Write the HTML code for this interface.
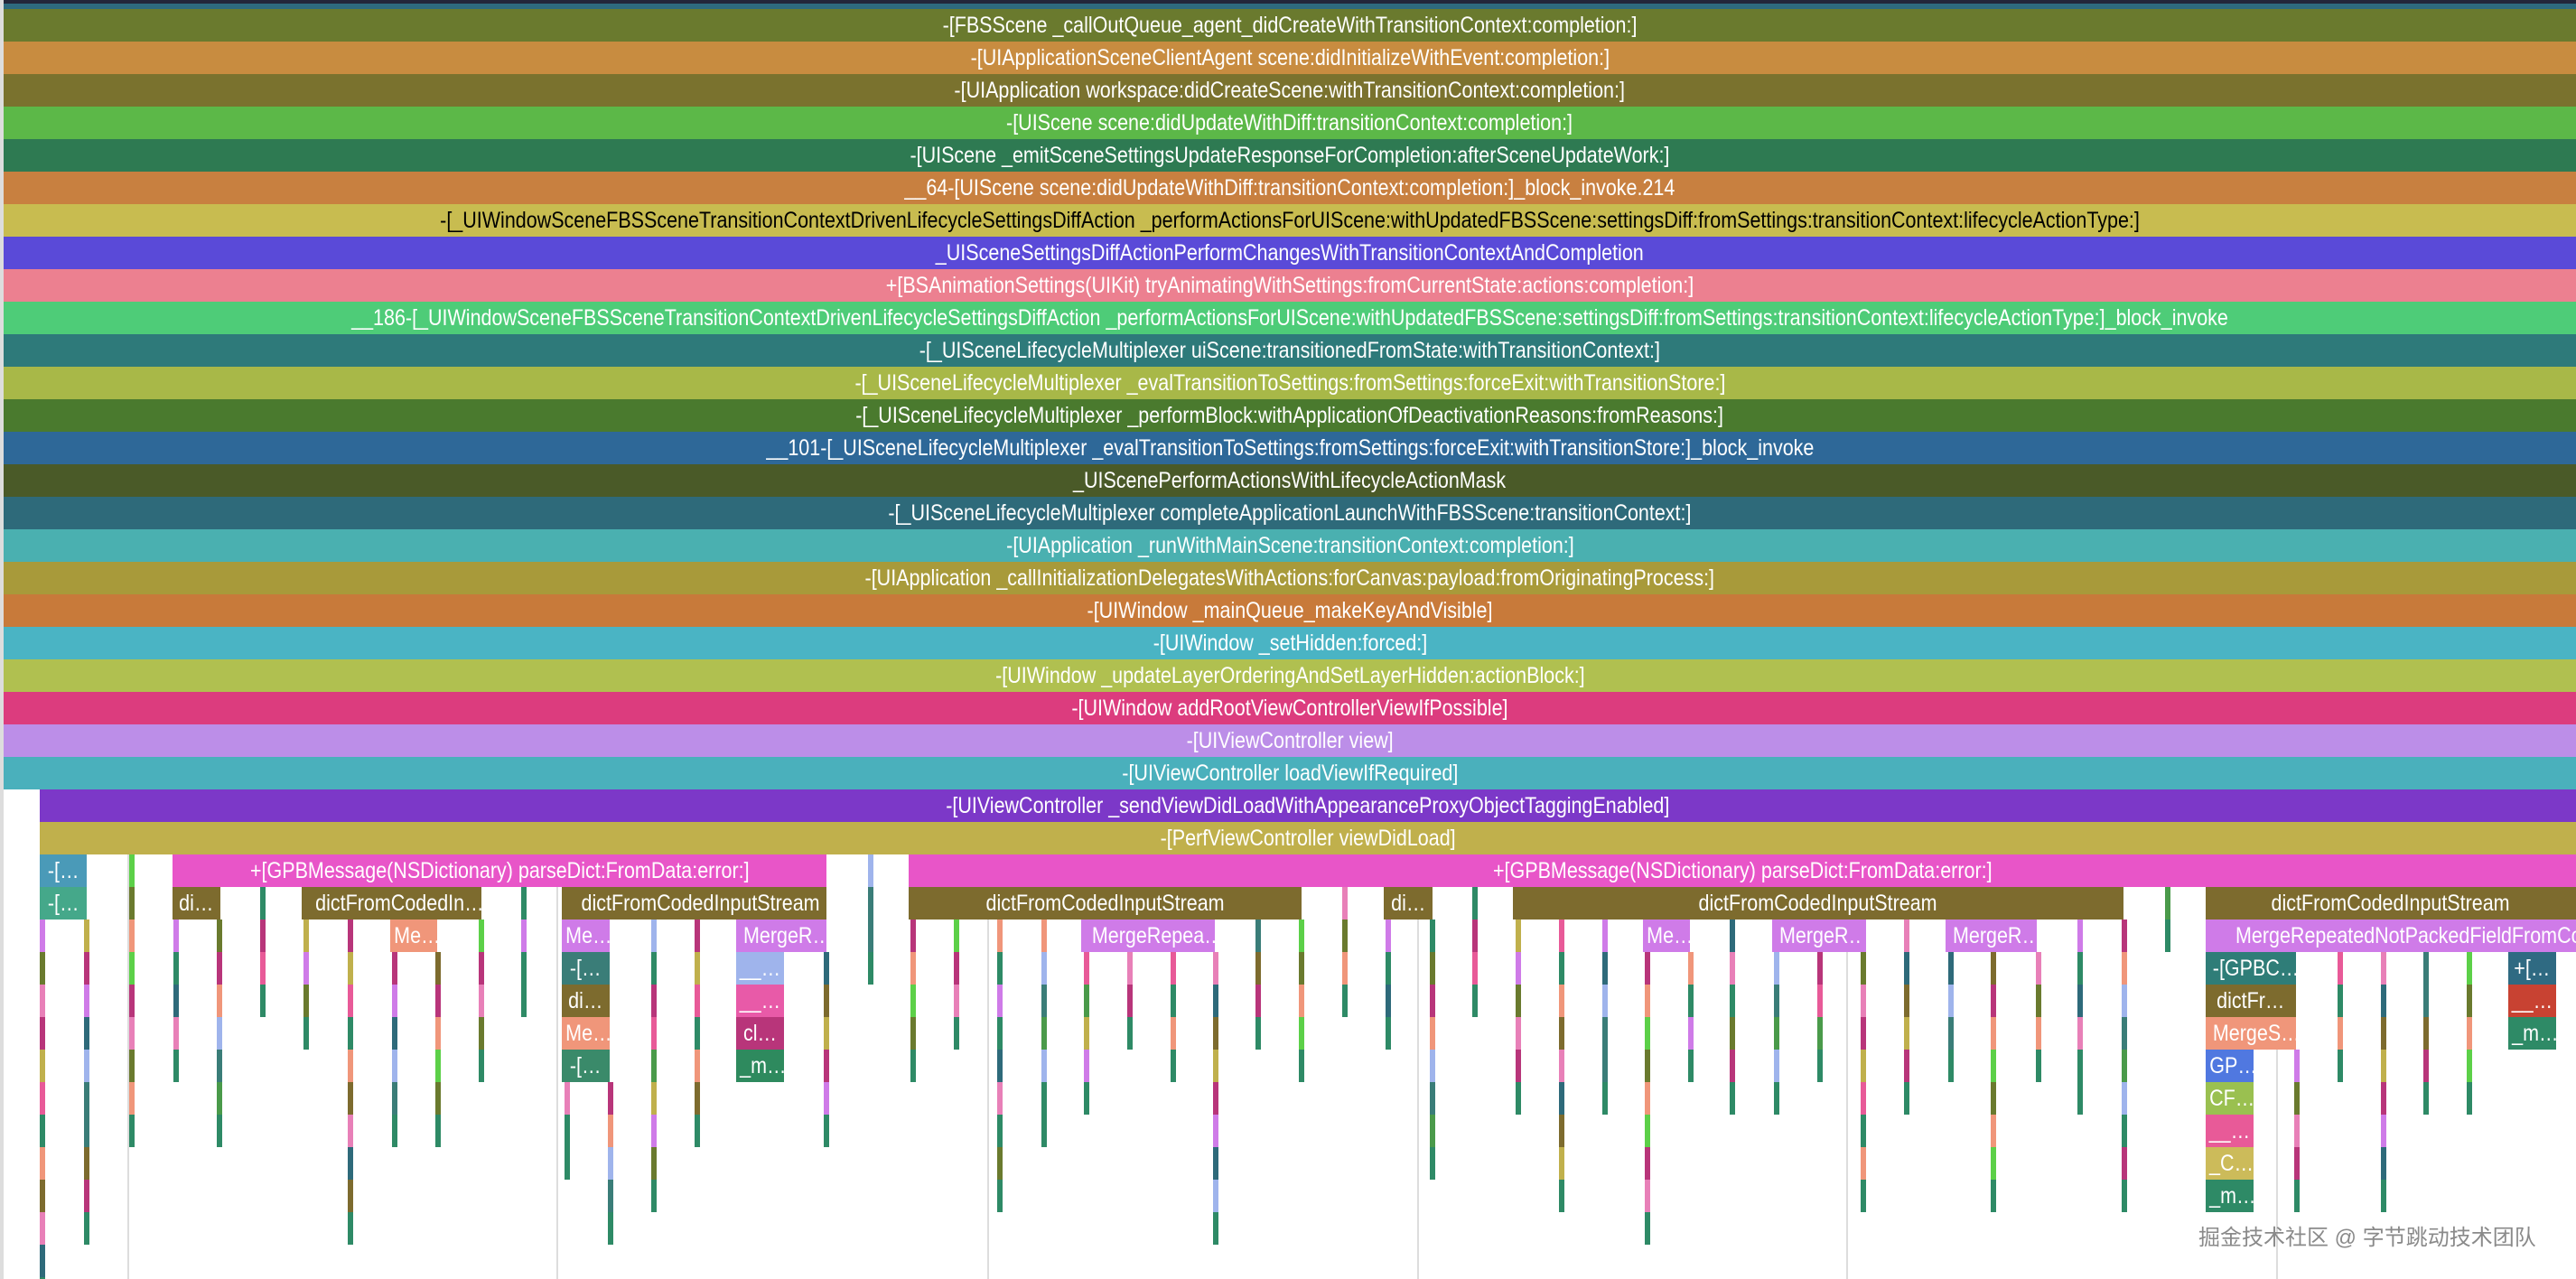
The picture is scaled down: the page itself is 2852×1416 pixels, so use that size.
<!DOCTYPE html>
<html><head><meta charset="utf-8"><style>
html,body{margin:0;padding:0;background:#fff;width:2852px;height:1416px;overflow:hidden;position:relative}
.b{position:absolute;height:36px;line-height:36px;color:#fff;font-family:"Liberation Sans",sans-serif;font-size:25px;text-align:center;white-space:nowrap;overflow:hidden}
.b span{display:inline-block;transform:scaleX(0.86);transform-origin:center}
.t{position:absolute;width:6px;height:36px}
.g{position:absolute;width:2px;top:946px;height:470px;background:#ddd}
</style></head><body>
<div style="position:absolute;left:0;top:0;width:2852px;height:4px;background:#23263a"></div>
<div style="position:absolute;left:4px;top:4px;width:2848px;height:6px;background:#2e6a7e"></div>
<div style="position:absolute;left:0;top:0;width:4px;height:1416px;background:#ddd"></div>
<div class="g" style="left:141px"></div><div class="g" style="left:616px"></div><div class="g" style="left:1093px"></div><div class="g" style="left:1569px"></div><div class="g" style="left:2044px"></div><div class="g" style="left:2520px"></div>
<div id="rows"></div>
<div id="bars"></div>
<div style="position:absolute;left:2434px;top:1350px;font-family:'Liberation Sans','Noto Sans CJK SC',sans-serif;font-size:24px;color:#8a8a8a;white-space:nowrap">掘金技术社区 @ 字节跳动技术团队</div>
<script>
var rows=[
["#6a7a2e","-[FBSScene _callOutQueue_agent_didCreateWithTransitionContext:completion:]"],
["#c88c40","-[UIApplicationSceneClientAgent scene:didInitializeWithEvent:completion:]"],
["#7a722e","-[UIApplication workspace:didCreateScene:withTransitionContext:completion:]"],
["#5cb848","-[UIScene scene:didUpdateWithDiff:transitionContext:completion:]"],
["#2e7a52","-[UIScene _emitSceneSettingsUpdateResponseForCompletion:afterSceneUpdateWork:]"],
["#c88040","__64-[UIScene scene:didUpdateWithDiff:transitionContext:completion:]_block_invoke.214"],
["#c8bc50","-[_UIWindowSceneFBSSceneTransitionContextDrivenLifecycleSettingsDiffAction _performActionsForUIScene:withUpdatedFBSScene:settingsDiff:fromSettings:transitionContext:lifecycleActionType:]","#000"],
["#5a4ad8","_UISceneSettingsDiffActionPerformChangesWithTransitionContextAndCompletion"],
["#ec8090","+[BSAnimationSettings(UIKit) tryAnimatingWithSettings:fromCurrentState:actions:completion:]"],
["#4ecc78","__186-[_UIWindowSceneFBSSceneTransitionContextDrivenLifecycleSettingsDiffAction _performActionsForUIScene:withUpdatedFBSScene:settingsDiff:fromSettings:transitionContext:lifecycleActionType:]_block_invoke"],
["#2e7a7a","-[_UISceneLifecycleMultiplexer uiScene:transitionedFromState:withTransitionContext:]"],
["#a8b848","-[_UISceneLifecycleMultiplexer _evalTransitionToSettings:fromSettings:forceExit:withTransitionStore:]"],
["#4a7a2e","-[_UISceneLifecycleMultiplexer _performBlock:withApplicationOfDeactivationReasons:fromReasons:]"],
["#2e6898","__101-[_UISceneLifecycleMultiplexer _evalTransitionToSettings:fromSettings:forceExit:withTransitionStore:]_block_invoke"],
["#4a5a28","_UIScenePerformActionsWithLifecycleActionMask"],
["#2e6a7a","-[_UISceneLifecycleMultiplexer completeApplicationLaunchWithFBSScene:transitionContext:]"],
["#4ab0b0","-[UIApplication _runWithMainScene:transitionContext:completion:]"],
["#a89a3a","-[UIApplication _callInitializationDelegatesWithActions:forCanvas:payload:fromOriginatingProcess:]"],
["#c87a3a","-[UIWindow _mainQueue_makeKeyAndVisible]"],
["#4ab4c4","-[UIWindow _setHidden:forced:]"],
["#b0c050","-[UIWindow _updateLayerOrderingAndSetLayerHidden:actionBlock:]"],
["#dc3c7e","-[UIWindow addRootViewControllerViewIfPossible]"],
["#bc8ee8","-[UIViewController view]"],
["#4ab0bc","-[UIViewController loadViewIfRequired]"]
];
var h="";
function blk(x,w,r,c,t,tc){h+='<div class="b" style="left:'+x+'px;width:'+w+'px;top:'+(10+r*36)+'px;background:'+c+(tc?';color:'+tc:'')+'"><span>'+(t||"")+'</span></div>';}
rows.forEach(function(r,i){blk(4,2848,i,r[0],r[1],r[2]);});
blk(44,2808,24,"#7c38c8","-[UIViewController _sendViewDidLoadWithAppearanceProxyObjectTaggingEnabled]");
blk(44,2808,25,"#c0b04c","-[PerfViewController viewDidLoad]");
var P="#e855c8",O="#7d6b2e",V="#cf7be8",S="#f0967a";
blk(44,52,26,"#4a9ab8","-[…");blk(44,52,27,"#45a88a","-[…");
blk(191,724,26,P,"+[GPBMessage(NSDictionary) parseDict:FromData:error:]");
blk(1006,1846,26,P,"+[GPBMessage(NSDictionary) parseDict:FromData:error:]");
blk(191,53,27,O,"di…");blk(334,199,27,O,"dictFromCodedIn…");blk(622,293,27,O,"dictFromCodedInputStream");
blk(1006,435,27,O,"dictFromCodedInputStream");blk(1532,54,27,O,"di…");blk(1675,676,27,O,"dictFromCodedInputStream");blk(2442,410,27,O,"dictFromCodedInputStream");
blk(432,52,28,S,"Me…");blk(622,53,28,V,"Me…");blk(815,100,28,V,"MergeR…");blk(1197,148,28,V,"MergeRepea…");blk(1819,52,28,V,"Me…");blk(1962,100,28,V,"MergeR…");blk(2154,101,28,V,"MergeR…");blk(2442,410,28,V,"MergeRepeatedNotPackedFieldFromCo…");
blk(622,53,29,"#3a7d78","-[…");blk(622,53,30,O,"di…");blk(622,53,31,S,"Me…");blk(622,53,32,"#3a8a6a","-[…");
blk(815,53,29,"#9fb4ec","__…");blk(815,53,30,"#e85aa8","__…");blk(815,53,31,"#b8357a","cl…");blk(815,53,32,"#2e8a5e","_m…");
blk(2442,100,29,"#2f7d78","-[GPBC…");blk(2442,100,30,O,"dictFr…");blk(2442,100,31,S,"MergeS…");
blk(2442,53,32,"#5078e0","GP…");blk(2442,53,33,"#9ac050","CF…");blk(2442,53,34,"#e85a98","__…");blk(2442,53,35,"#ccbb5a","_C…");blk(2442,53,36,"#2e8a66","_m…");
blk(2777,53,29,"#2f6a82","+[…");blk(2777,53,30,"#c84232","__…");blk(2777,53,31,"#2e8a66","_m…");
document.getElementById("rows").innerHTML=h;
var bars=[[44,28,39],[93,28,37],[143,26,34],[192,28,32],[240,28,34],[288,27,30],[336,28,31],[385,28,37],[434,29,34],[482,29,34],[530,28,32],[577,27,30],[625,33,35],[673,33,37],[721,28,36],[769,28,34],[912,29,34],[961,26,29],[1008,28,32],[1056,28,31],[1104,28,36],[1153,28,34],[1200,29,33],[1248,29,31],[1296,29,32],[1343,29,37],[1390,28,31],[1438,28,32],[1486,27,30],[1534,28,31],[1583,28,35],[1630,27,30],[1678,28,33],[1726,28,36],[1774,28,33],[1821,29,37],[1869,29,32],[1915,28,33],[1964,29,33],[2012,29,32],[2060,28,36],[2108,28,33],[2157,29,32],[2204,29,36],[2254,29,32],[2300,28,33],[2349,28,36],[2397,27,28],[2540,32,36],[2588,29,32],[2636,29,36],[2683,29,33],[2731,29,33]];
var pal=["#f0967a","#2e8a66","#e85a98","#6a7a2e","#9fb4ec","#b8357a","#3a7d78","#c0b04c","#5078e0","#7d6b2e","#cf7be8","#4a9a4a","#e880b8","#2e6a7a","#5cd048"];
var s=7,b="";
bars.forEach(function(a){for(var r=a[1];r<=a[2];r++){s=(s*31+17)%97;var c=r==a[2]?"#2e8a66":pal[s%pal.length];b+='<div class="t" style="left:'+a[0]+'px;top:'+(10+r*36)+'px;background:'+c+'"></div>';}});
document.getElementById("bars").innerHTML=b;
</script>
</body></html>
